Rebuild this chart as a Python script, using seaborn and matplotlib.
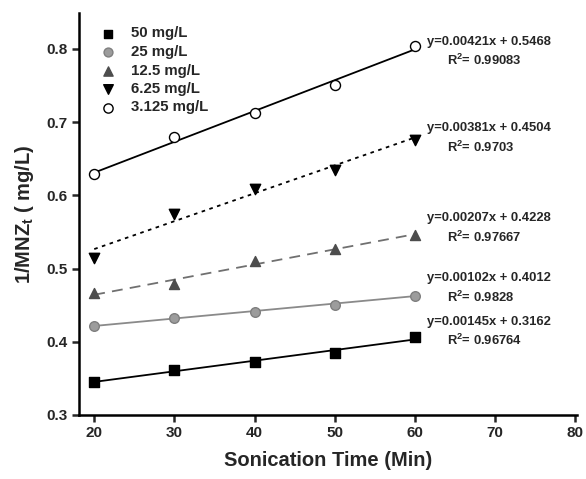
import numpy as np
import pandas as pd
import matplotlib
matplotlib.use("Agg")
import matplotlib.pyplot as plt
import seaborn as sns

# ---- data ----
times = [20, 30, 40, 50, 60]
series_names = ["50 mg/L", "25 mg/L", "12.5 mg/L", "6.25 mg/L", "3.125 mg/L"]
vals_50 = [0.345, 0.361, 0.373, 0.385, 0.406]
vals_25 = [0.421, 0.433, 0.441, 0.450, 0.463]
vals_12_5 = [0.467, 0.479, 0.510, 0.527, 0.546]
vals_6_25 = [0.515, 0.574, 0.608, 0.634, 0.676]
vals_3_125 = [0.629, 0.680, 0.712, 0.751, 0.804]
slopes = [0.00145, 0.00102, 0.00207, 0.00381, 0.00421]
intercepts = [0.3162, 0.4012, 0.4228, 0.4504, 0.5468]
eq_labels = ["y=0.00145x + 0.3162", "y=0.00102x + 0.4012", "y=0.00207x + 0.4228",
             "y=0.00381x + 0.4504", "y=0.00421x + 0.5468"]
r2_labels = ["0.96764", "0.9828", "0.97667", "0.9703", "0.99083"]
x_ticks = [20, 30, 40, 50, 60, 70, 80]
y_ticks = [0.3, 0.4, 0.5, 0.6, 0.7, 0.8]

all_vals = [vals_50, vals_25, vals_12_5, vals_6_25, vals_3_125]

sns.set_theme(style="ticks")
plt.rcParams["font.family"] = ["Liberation Sans", "DejaVu Sans"]
plt.rcParams["font.weight"] = "bold"
plt.rcParams["mathtext.fontset"] = "custom"
plt.rcParams["mathtext.bf"] = "Liberation Sans:bold"
plt.rcParams["mathtext.rm"] = "Liberation Sans:bold"
plt.rcParams["mathtext.default"] = "bf"

fig = plt.figure(figsize=(5.86, 4.79), dpi=100)
ax = fig.add_axes([79 / 586, 64 / 479, (577 - 79) / 586, (466 - 64) / 479])

styles = [
    dict(marker="s", fc="black", ec="black", s=42, lc="black", ls="-", lw=1.3),
    dict(marker="o", fc="#9c9c9c", ec="#7f7f7f", s=48, lc="#8a8a8a", ls="-", lw=1.3),
    dict(marker="^", fc="#4d4d4d", ec="#4d4d4d", s=52, lc="#707070", ls=(0, (6, 4)), lw=1.3),
    dict(marker="v", fc="black", ec="black", s=56, lc="black", ls=(0, (2, 2.5)), lw=1.3),
    dict(marker="o", fc="white", ec="black", s=52, lc="black", ls="-", lw=1.3),
]

handles = []
for i, name in enumerate(series_names):
    st = styles[i]
    xf = np.array([times[0], times[-1]], dtype=float)
    fit_df = pd.DataFrame({"x": xf, "y": slopes[i] * xf + intercepts[i]})
    sns.lineplot(data=fit_df, x="x", y="y", ax=ax, color=st["lc"], lw=st["lw"],
                 linestyle=st["ls"], zorder=2)
    df = pd.DataFrame({"x": times, "y": all_vals[i]})
    sns.scatterplot(data=df, x="x", y="y", ax=ax, marker=st["marker"], s=st["s"],
                    color=st["fc"], edgecolor=st["ec"], linewidth=1.0, zorder=3)
    h = ax.scatter([], [], marker=st["marker"], s=st["s"] * 0.85, c=st["fc"],
                   edgecolors=st["ec"], linewidths=1.0, label=name)
    handles.append(h)

# annotations
eq_y = [0.427, 0.487, 0.569, 0.692, 0.8096]
r2_y = [0.4025, 0.461, 0.543, 0.666, 0.7836]
for i in range(5):
    ax.text(61.5, eq_y[i], eq_labels[i], fontsize=9.4, fontweight="bold",
            ha="left", va="center")
    ax.text(64.0, r2_y[i], "R$^2$= " + r2_labels[i], fontsize=9.4, fontweight="bold",
            ha="left", va="center")

ax.set_xlim(18.1, 80.2)
ax.set_ylim(0.3, 0.849)
ax.set_xticks(x_ticks)
ax.set_yticks(y_ticks)
ax.set_yticklabels([f"{v:.1f}" for v in y_ticks])
ax.tick_params(axis="both", direction="out", length=5, width=1.8, labelsize=11, pad=3)
for lab in ax.get_xticklabels() + ax.get_yticklabels():
    lab.set_fontweight("bold")
sns.despine(ax=ax)
for sp in ["left", "bottom"]:
    ax.spines[sp].set_linewidth(1.8)
    ax.spines[sp].set_color("black")

ax.set_xlabel("Sonication Time (Min)", fontsize=14.5, fontweight="bold", labelpad=8)
ax.set_ylabel(r"1/MNZ$_t$ ( mg/L)", fontsize=14.5, fontweight="bold", labelpad=8)

leg = ax.legend(handles=handles, loc="upper left", bbox_to_anchor=(0.0, 1.0),
                frameon=False, fontsize=10.8, handletextpad=0.55, labelspacing=0.3,
                borderaxespad=0.5, borderpad=0.4)
for t in leg.get_texts():
    t.set_fontweight("bold")

fig.savefig("out.png", dpi=100)
